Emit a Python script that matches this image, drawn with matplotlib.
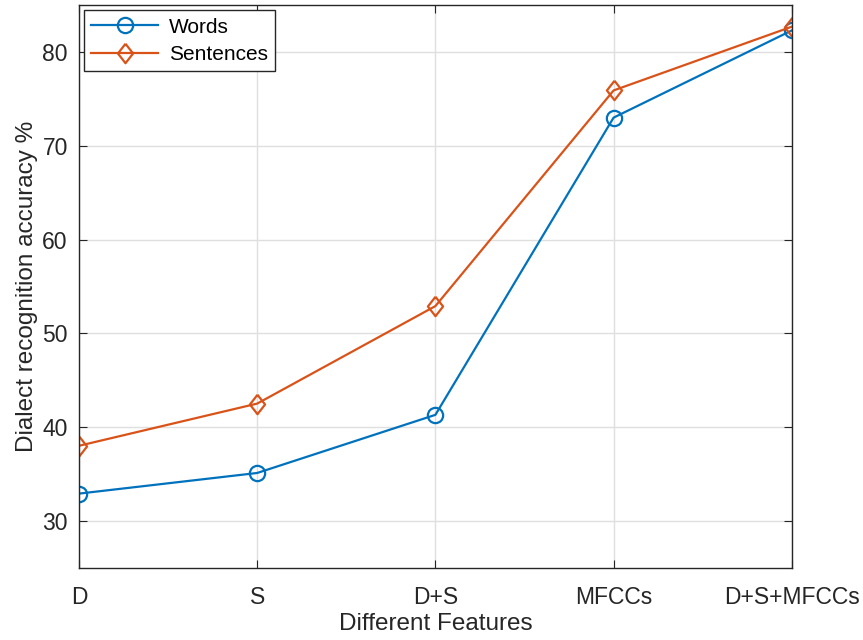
import matplotlib.pyplot as plt
import numpy as np

plt.rcParams['font.family'] = ['Liberation Sans', 'DejaVu Sans']

features = ['D', 'S', 'D+S', 'MFCCs', 'D+S+MFCCs']
words = [32.9, 35.1, 41.3, 73.0, 82.3]
sentences = [38.0, 42.5, 52.9, 75.9, 82.7]

# matlab style diamond, a bit taller than wide
diamond = [(0, 1), (0.78, 0), (0, -1), (-0.78, 0), (0, 1)]

fig = plt.figure(figsize=(8.63, 6.4), dpi=100)
ax = fig.add_axes([0.0915, 0.113, 0.826, 0.879])

x = np.arange(1, len(features) + 1)
ax.plot(x, words, '-', marker='o', color='#0072BD', linewidth=1.6, markersize=11,
        markerfacecolor='none', markeredgewidth=1.6, label='Words')
ax.plot(x, sentences, '-', marker=diamond, color='#D95319', linewidth=1.6, markersize=14,
        markerfacecolor='none', markeredgewidth=1.6, label='Sentences')

ax.set_xlim(1, 5)
ax.set_ylim(25, 85)
ax.set_xticks(x)
ax.set_xticklabels(features)
ax.set_yticks([30, 40, 50, 60, 70, 80])
ax.grid(True, color='#dfdfdf', linewidth=1)
ax.set_axisbelow(True)

for s in ax.spines.values():
    s.set_color('#262626')
    s.set_linewidth(1)
ax.tick_params(direction='in', top=True, right=True, length=6,
               color='#262626', labelcolor='#262626', labelsize=16.5)
ax.tick_params(axis='x', pad=13)
ax.tick_params(axis='y', pad=8)

ax.set_xlabel('Different Features', fontsize=17.5, color='#262626', labelpad=3)
ax.set_ylabel('Dialect recognition accuracy %', fontsize=17.5, color='#262626', labelpad=3)

leg = ax.legend(loc='upper left', fontsize=15, fancybox=False, framealpha=1,
                edgecolor='#262626', handlelength=3.2, borderaxespad=0.25,
                borderpad=0.35, labelspacing=0.4, handletextpad=0.5)
leg.get_frame().set_linewidth(1)

fig.savefig('out.png', dpi=100)
